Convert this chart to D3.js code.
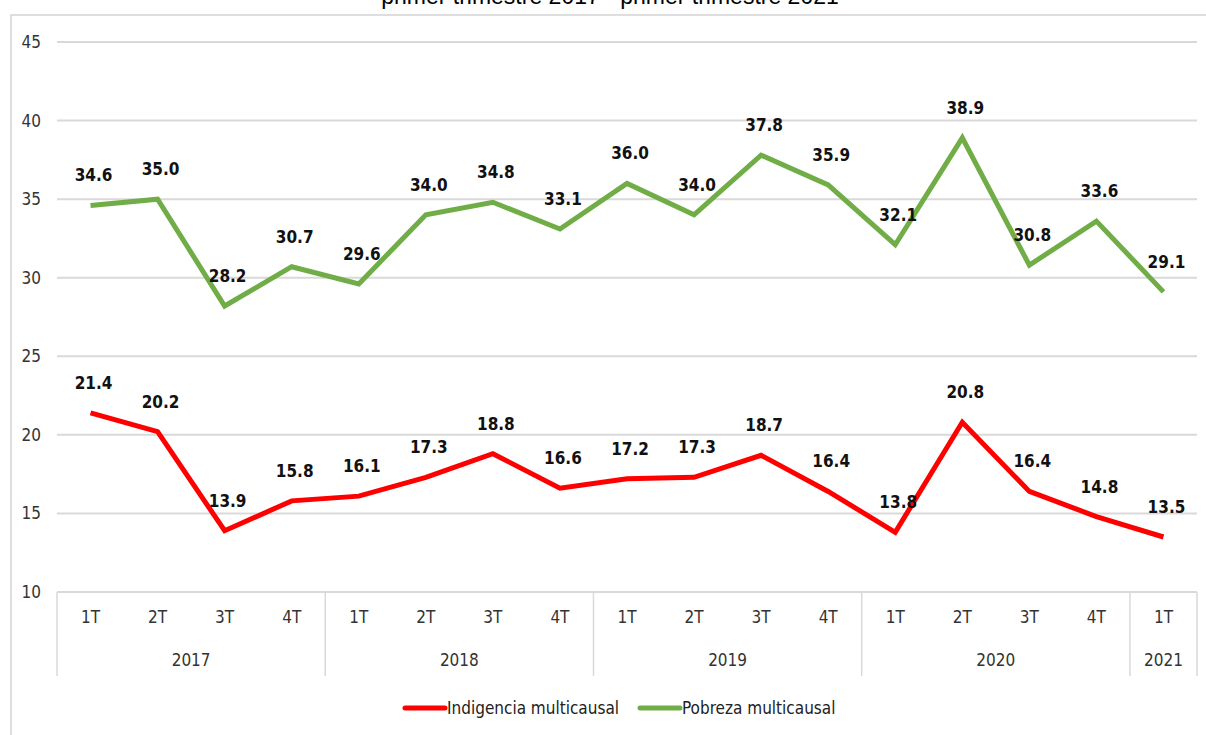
<!DOCTYPE html>
<html>
<head>
<meta charset="utf-8">
<script src="https://cdn.jsdelivr.net/npm/d3@7"></script>
<style>
  body { margin: 0; background: #fff; }
  svg text { font-family: "Liberation Sans Narrow", "DejaVu Sans Condensed", "Roboto", sans-serif; font-stretch: condensed; }
</style>
</head>
<body>
<div id="chart"></div>
<script>
const years = ['2017', '2018', '2019', '2020', '2021'];
const quarters = ['1T', '2T', '3T', '4T', '1T', '2T', '3T', '4T', '1T', '2T', '3T', '4T', '1T', '2T', '3T', '4T', '1T'];
const quarterYears = ['2017', '2017', '2017', '2017', '2018', '2018', '2018', '2018', '2019', '2019', '2019', '2019', '2020', '2020', '2020', '2020', '2021'];
const pobreza = [34.6, 35.0, 28.2, 30.7, 29.6, 34.0, 34.8, 33.1, 36.0, 34.0, 37.8, 35.9, 32.1, 38.9, 30.8, 33.6, 29.1];
const indigencia = [21.4, 20.2, 13.9, 15.8, 16.1, 17.3, 18.8, 16.6, 17.2, 17.3, 18.7, 16.4, 13.8, 20.8, 16.4, 14.8, 13.5];
const yTicks = [10, 15, 20, 25, 30, 35, 40, 45];

const width = 1206, height = 735;

const svg = d3.select('#chart').append('svg')
  .attr('width', width)
  .attr('height', height);

// marco
svg.append('rect')
  .attr('x', 11).attr('y', 15)
  .attr('width', 1220).attr('height', 760)
  .attr('fill', 'none')
  .attr('stroke', '#d4d4d4')
  .attr('stroke-width', 1.5);

// título (cortado arriba, como en el original)
svg.append('text')
  .attr('x', 610).attr('y', 4)
  .attr('text-anchor', 'middle')
  .style('font-family', 'Liberation Sans, Arial, sans-serif')
  .style('font-stretch', 'normal')
  .style('font-size', '23px')
  .attr('fill', '#000')
  .text('primer trimestre 2017 - primer trimestre 2021');

const idx = d3.range(quarters.length);

const x = d3.scaleBand()
  .domain(idx)
  .range([57, 1197]);

const y = d3.scaleLinear()
  .domain([10, 45])
  .range([592, 42]);

// grilla
svg.append('g')
  .selectAll('line')
  .data(yTicks)
  .join('line')
  .attr('x1', 57).attr('x2', 1197)
  .attr('y1', d => y(d)).attr('y2', d => y(d))
  .attr('stroke', '#d9d9d9')
  .attr('stroke-width', 2);

svg.append('g')
  .selectAll('text')
  .data(yTicks)
  .join('text')
  .attr('x', 41)
  .attr('y', d => y(d) + 6)
  .attr('text-anchor', 'end')
  .attr('font-size', 17)
  .attr('fill', '#333')
  .text(d => d);

// eje x agrupado por año
const axis = svg.append('g');
axis.selectAll('text.q')
  .data(idx)
  .join('text')
  .attr('class', 'q')
  .attr('x', d => x(d) + x.bandwidth() / 2)
  .attr('y', 623)
  .attr('text-anchor', 'middle')
  .attr('font-size', 17)
  .attr('fill', '#333')
  .text(d => quarters[d]);

const groups = years.map(yr => {
  const members = idx.filter(i => quarterYears[i] === yr);
  return { year: yr, start: x(members[0]), end: x(members[members.length - 1]) + x.bandwidth() };
});

const bounds = [57].concat(groups.map(g => g.end));
axis.selectAll('line.sep')
  .data(bounds)
  .join('line')
  .attr('class', 'sep')
  .attr('x1', d => d).attr('x2', d => d)
  .attr('y1', 592).attr('y2', 676)
  .attr('stroke', '#d9d9d9')
  .attr('stroke-width', 1.5);

axis.selectAll('text.yr')
  .data(groups)
  .join('text')
  .attr('class', 'yr')
  .attr('x', d => (d.start + d.end) / 2)
  .attr('y', 666)
  .attr('text-anchor', 'middle')
  .attr('font-size', 17)
  .attr('fill', '#333')
  .text(d => d.year);

// series
const series = [
  { name: 'Indigencia multicausal', values: indigencia, color: '#ff0000' },
  { name: 'Pobreza multicausal', values: pobreza, color: '#70ad47' }
];

const line = d3.line()
  .x((d, i) => x(i) + x.bandwidth() / 2)
  .y(d => y(d));

svg.append('g')
  .selectAll('path')
  .data(series)
  .join('path')
  .attr('d', d => line(d.values))
  .attr('fill', 'none')
  .attr('stroke', d => d.color)
  .attr('stroke-width', 5)
  .attr('stroke-linejoin', 'miter');

series.forEach(s => {
  svg.append('g')
    .selectAll('text')
    .data(s.values)
    .join('text')
    .attr('x', (d, i) => x(i) + x.bandwidth() / 2 + 3)
    .attr('y', d => y(d) - 24)
    .attr('text-anchor', 'middle')
    .attr('font-size', 17)
    .attr('font-weight', 'bold')
    .attr('fill', '#111')
    .text(d => d.toFixed(1));
});

// leyenda
const legend = svg.append('g');
const legendPos = [405, 640];
series.forEach((s, i) => {
  const g = legend.append('g').attr('transform', `translate(${legendPos[i]},708)`);
  g.append('line')
    .attr('x1', 0).attr('x2', 40)
    .attr('stroke', s.color)
    .attr('stroke-width', 5)
    .attr('stroke-linecap', 'round');
  g.append('text')
    .attr('x', 42).attr('y', 6)
    .attr('font-size', 17)
    .attr('fill', '#222')
    .text(s.name);
});
</script>
</body>
</html>
